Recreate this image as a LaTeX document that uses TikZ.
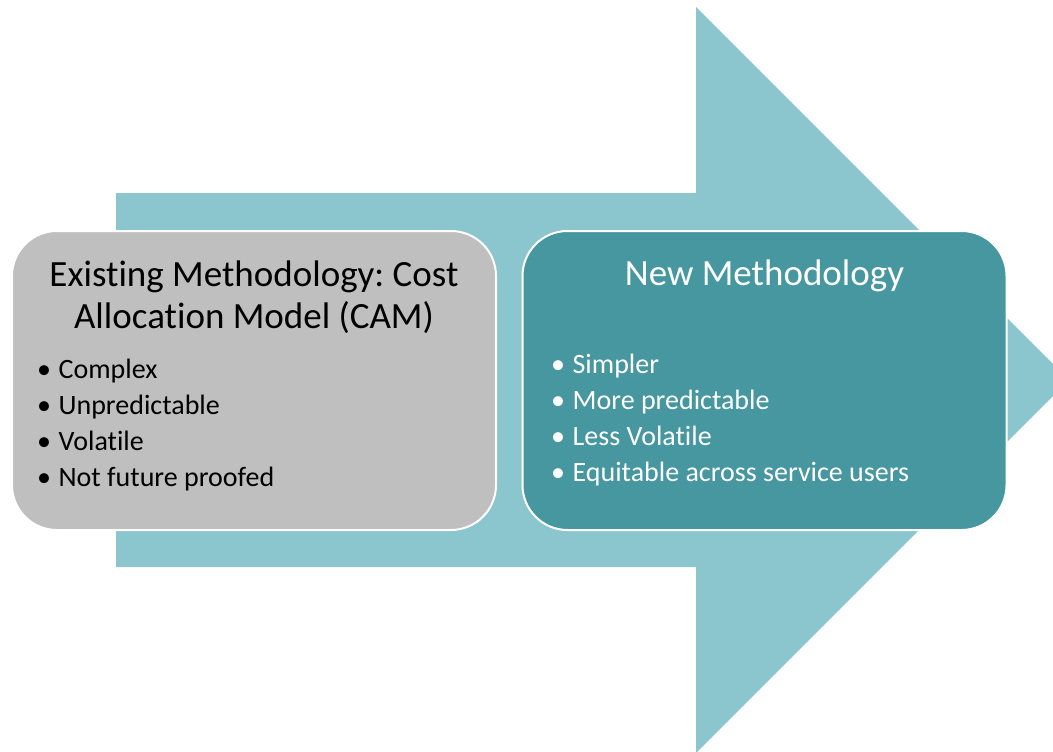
\documentclass[tikz,border=0pt]{standalone}
\usepackage{fontspec}
\setmainfont{Carlito}[Ligatures=NoCommon]
\frenchspacing

\definecolor{arrowteal}{HTML}{8BC6CE}
\definecolor{newteal}{HTML}{46979F}
\definecolor{camgray}{HTML}{BFBFBF}

\begin{document}
\begin{tikzpicture}[x=1pt,y=-1pt,
  panel/.style={draw=white, line width=2pt, rounded corners=45pt,
    minimum width=484pt, minimum height=299pt, inner sep=0pt},
  heading/.style={align=center, font=\fontsize{37}{42}\selectfont},
  point/.style={anchor=base west, inner sep=0pt, font=\fontsize{28}{36}\selectfont}]
  \clip (0,0) rectangle (1053,752);
  % big arrow behind the two panels
  \fill[arrowteal] (116,193) -- (696,193) -- (696,7) -- (1069,380)
    -- (696,753) -- (696,567) -- (116,567) -- cycle;
  \node[panel, fill=camgray] (old) at (254,380.5) {};
  \node[panel, fill=newteal] (new) at (764.5,380.5) {};
  \node[heading] (oldtitle) at (254,297) {Existing Methodology: Cost\\Allocation Model (CAM)};
  \node[heading, text=white] (newtitle) at (764.5,276) {New Methodology};
  \foreach \txt [count=\i] in {Complex, Unpredictable, Volatile, Not future proofed}
    \node[point] (old\i) at (37,378+36*\i-36) {\textbullet\hspace{7.5pt}\txt};
  \foreach \txt [count=\i] in {Simpler, More predictable, Less Volatile, Equitable across service users}
    \node[point, text=white] (new\i) at (551,373+36*\i-36) {\textbullet\hspace{7.5pt}\txt};
\end{tikzpicture}
\end{document}
